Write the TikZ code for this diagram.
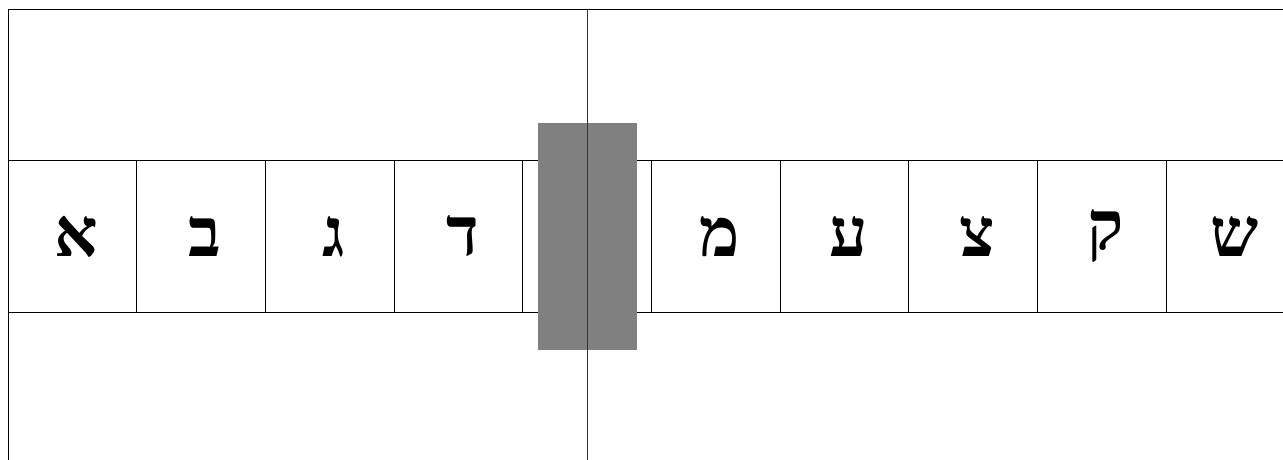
\documentclass[tikz,border=0pt]{standalone}
\usepackage{fontspec}
\newfontfamily\hebfont[Script=Hebrew]{Liberation Serif}
\TeXXeTstate=1
\begin{document}
\begin{tikzpicture}[x=1pt,y=-1pt,
  cell/.style={draw=black,line width=1pt,minimum width=128.7pt,minimum height=151.3pt,inner sep=0pt,outer sep=0pt,
    font=\hebfont\bfseries\fontsize{68}{68}\selectfont},
  frame/.style={draw=black,line width=1pt}]
\useasboundingbox (0,0) rectangle (1283,459);
\clip (0,0) rectangle (1283,459);
\coordinate (tl) at (8,9.5);
\coordinate (tr) at (1290,9.5);
\coordinate (bl) at (8,470);
\coordinate (ct) at (587,9.5);
\coordinate (cb) at (587,470);
\draw[frame] (tr) -- (tl) -- (bl);
\foreach \i/\l in {0/א,1/ב,2/ג,3/ד,4/{},5/מ,6/ע,7/צ,8/ק,9/ש}{
  \node[cell] (c\i) at ({8+128.7*(\i+0.5)},236.35) {\raisebox{-3pt}{\hspace{8pt}\beginR\l\endR}};
}
\node[fill=black!50,minimum width=99pt,minimum height=227pt,inner sep=0pt] (g) at (587.5,236.5) {};
\draw[frame,draw=black!80] (ct) -- (cb);
\end{tikzpicture}
\end{document}
